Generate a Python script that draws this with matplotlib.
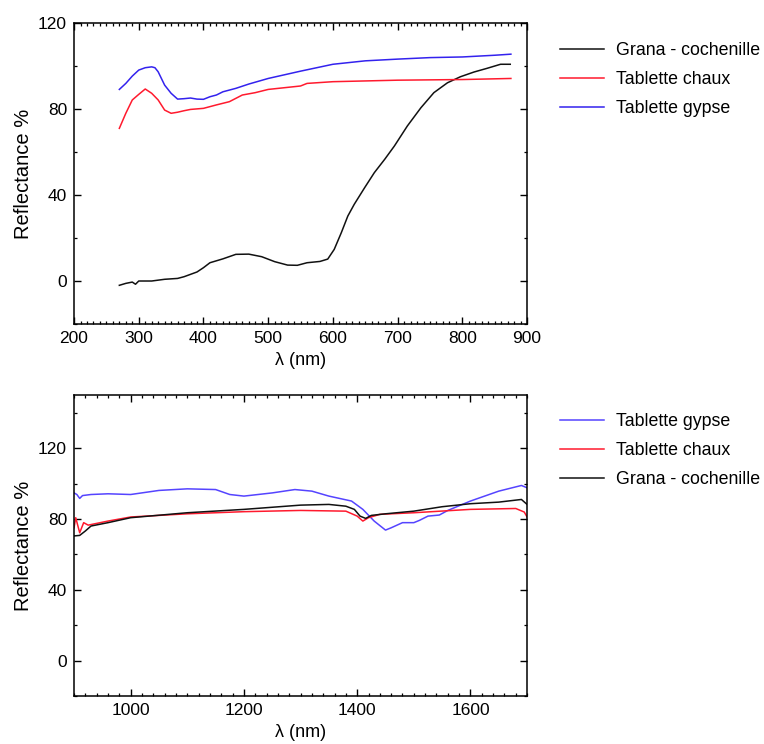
import matplotlib
matplotlib.use("Agg")
import matplotlib.pyplot as plt
from matplotlib.ticker import MultipleLocator

plt.rcParams['font.family'] = ['Liberation Sans', 'DejaVu Sans']
plt.rcParams['font.size'] = 12.5

# ---------------- UV-Vis range (270-875 nm) ----------------
vis_grana_nm = [270, 280, 290, 295, 300, 320, 340, 360, 370, 380, 390, 400, 410, 430,
                450, 470, 490, 510, 530, 545, 560, 580, 592, 602, 613, 623, 633, 649,
                664, 680, 695, 715, 736, 756, 777, 797, 818, 838, 859, 874]
vis_grana = [-2.0, -1.1, -0.5, -1.5, 0.0, 0.0, 0.8, 1.2, 2.0, 3.1, 4.2, 6.2, 8.5, 10.3,
             12.4, 12.5, 11.3, 9.0, 7.4, 7.3, 8.5, 9.1, 10.2, 14.7, 22.5, 30.2, 35.7, 43.4,
             50.4, 56.6, 62.8, 72.1, 80.6, 87.6, 92.2, 95.0, 97.2, 98.9, 100.8, 100.8]

vis_chaux_nm = [270, 280, 290, 300, 310, 320, 330, 340, 350, 360, 370, 380, 400, 420,
                440, 460, 480, 500, 550, 560, 600, 700, 800, 875]
vis_chaux = [71.0, 78.0, 84.2, 86.8, 89.3, 87.3, 84.2, 79.5, 78.0, 78.5, 79.2, 79.8, 80.3, 81.9,
             83.4, 86.5, 87.6, 89.1, 90.7, 91.9, 92.7, 93.4, 93.7, 94.2]

vis_gypse_nm = [270, 280, 290, 300, 310, 320, 325, 330, 340, 350, 360, 370, 380, 390,
                400, 410, 420, 430, 450, 470, 500, 550, 600, 650, 700, 750, 800, 850, 875]
vis_gypse = [89.1, 91.9, 95.3, 98.1, 99.2, 99.6, 99.2, 97.3, 91.1, 87.3, 84.6, 84.8, 85.1, 84.6,
             84.5, 85.7, 86.5, 88.0, 89.6, 91.6, 94.2, 97.6, 100.8, 102.4, 103.2, 103.9, 104.2, 105.0, 105.5]

# ---------------- NIR range (900-1700 nm) ----------------
nir_gypse_nm = [900, 905, 910, 915, 930, 960, 1000, 1050, 1100, 1150, 1175, 1200, 1250, 1290,
                1320, 1350, 1390, 1410, 1430, 1450, 1460, 1480, 1500, 1510, 1525, 1545, 1560,
                1600, 1650, 1690, 1700]
nir_gypse = [94.7, 93.8, 91.6, 93.2, 93.8, 94.2, 93.8, 96.1, 97.0, 96.6, 93.8, 92.9, 94.7, 96.6,
             95.7, 92.9, 90.1, 85.4, 78.8, 73.7, 75.0, 77.9, 77.9, 79.2, 81.6, 82.2, 84.8,
             90.1, 95.7, 98.9, 97.6]

nir_chaux_nm = [900, 903, 910, 917, 925, 960, 1000, 1100, 1200, 1300, 1380, 1400, 1410, 1420,
                1440, 1500, 1600, 1680, 1695, 1700]
nir_chaux = [75.0, 80.7, 72.2, 77.9, 76.5, 78.8, 81.1, 82.9, 84.1, 84.8, 84.4, 81.6, 78.8, 80.7,
             82.6, 83.5, 85.4, 85.9, 83.9, 81.1]

nir_grana_nm = [900, 910, 920, 930, 960, 1000, 1100, 1200, 1300, 1350, 1380, 1395, 1405, 1415,
                1425, 1450, 1500, 1550, 1600, 1650, 1690, 1700]
nir_grana = [70.4, 70.7, 73.2, 76.0, 77.9, 80.7, 83.5, 85.4, 87.8, 88.2, 87.2, 85.4, 81.6, 80.3,
             82.0, 82.9, 84.4, 86.9, 88.6, 89.5, 91.0, 88.2]

yticks = [0, 40, 80, 120]

fig = plt.figure(figsize=(7.64, 7.44), dpi=100)
ax1 = fig.add_axes([0.0969, 0.5645, 0.593, 0.4046])
ax2 = fig.add_axes([0.0969, 0.0645, 0.593, 0.4046])

ax1.plot(vis_grana_nm, vis_grana, color='#111111', lw=1.1, label='Grana - cochenille')
ax1.plot(vis_chaux_nm, vis_chaux, color='#ff1a2e', lw=1.1, label='Tablette chaux')
ax1.plot(vis_gypse_nm, vis_gypse, color='#3322ee', lw=1.1, label='Tablette gypse')
ax1.set_xlim(200, 900)
ax1.set_ylim(-20, 120)
ax1.xaxis.set_major_locator(MultipleLocator(100))
ax1.xaxis.set_minor_locator(MultipleLocator(10))

ax2.plot(nir_gypse_nm, nir_gypse, color='#5544ff', lw=1.1, label='Tablette gypse')
ax2.plot(nir_chaux_nm, nir_chaux, color='#ff1a2e', lw=1.1, label='Tablette chaux')
ax2.plot(nir_grana_nm, nir_grana, color='#111111', lw=1.1, label='Grana - cochenille')
ax2.set_xlim(900, 1700)
ax2.set_ylim(-20, 150)
ax2.xaxis.set_major_locator(MultipleLocator(200))
ax2.xaxis.set_minor_locator(MultipleLocator(20))

for ax in (ax1, ax2):
    ax.set_yticks(yticks)
    ax.yaxis.set_minor_locator(MultipleLocator(20))
    ax.tick_params(which='both', direction='in', top=True, right=True, labelsize=12.5)
    ax.tick_params(which='major', length=5, width=1.0, pad=5)
    ax.tick_params(which='minor', length=2.5, width=0.9)
    for s in ax.spines.values():
        s.set_linewidth(1.1)
    ax.set_xlabel('λ (nm)', fontsize=13, labelpad=4)
    ax.set_ylabel('Reflectance %', fontsize=14.5, labelpad=4)

leg_kw = dict(loc='upper left', frameon=False, fontsize=12.8, handlelength=2.45,
              handletextpad=0.72, labelspacing=0.68, borderaxespad=0.0)
ax1.legend(bbox_to_anchor=(553 / 764, 1 - 35 / 744), bbox_transform=fig.transFigure, **leg_kw)
ax2.legend(bbox_to_anchor=(553 / 764, 1 - 406 / 744), bbox_transform=fig.transFigure, **leg_kw)

fig.savefig('out.png', dpi=100)
